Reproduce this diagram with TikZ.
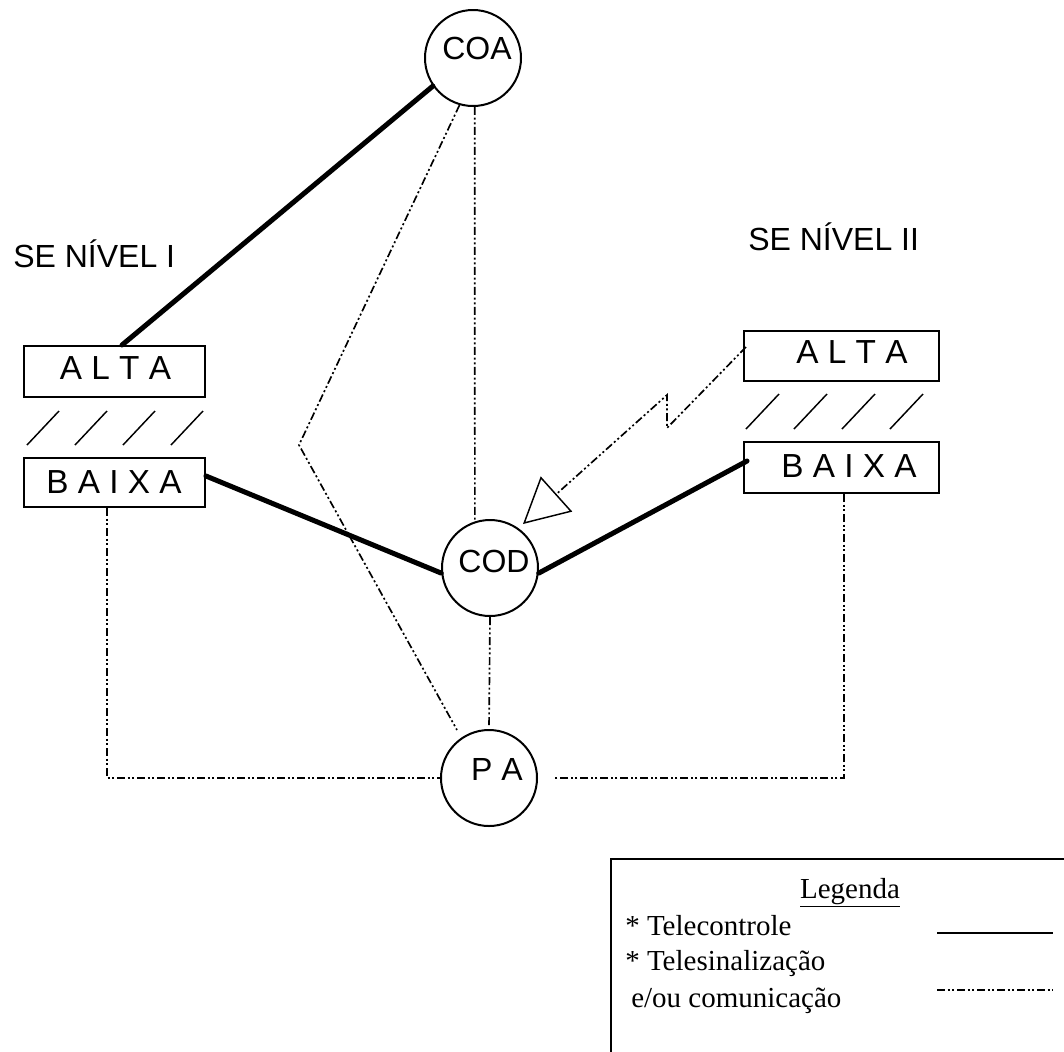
\documentclass[tikz,border=0pt]{standalone}
\usepackage{fontspec}
\setmainfont{Liberation Serif}
\newfontfamily\arialf{Liberation Sans}
\usetikzlibrary{calc,arrows.meta}
\begin{document}
\begin{tikzpicture}[x=0.75pt,y=-0.75pt,
  circ/.style={circle,draw,line width=1.5pt,minimum size=72pt,inner sep=0pt},
  boxn/.style={rectangle,draw,line width=1.5pt,inner sep=0pt},
  sans/.style={font=\arialf\fontsize{24}{28}\selectfont,inner sep=0pt},
  boxtxt/.style={font=\arialf\fontsize{25}{29}\selectfont,inner sep=0pt},
  serif/.style={font=\fontsize{21.75}{26}\selectfont,inner sep=0pt},
  tc/.style={line width=3.75pt,line cap=round},
  dd/.style={line width=1.25pt,dash pattern=on 6pt off 2pt on 1.5pt off 2pt on 1.5pt off 2pt},
  hatch/.style={line width=1.1pt}]
\useasboundingbox (0,0) rectangle (1064,1051);
\clip (0,0) rectangle (1064,1051);
\fill[white] (0,0) rectangle (1064,1051);

% circles
\node[circ] (COA) at (473,58) {};
\node[sans,anchor=base] (COAt) at (477,59) {COA};
\node[circ] (COD) at (490,568) {};
\node[sans,anchor=base] (CODt) at (494,572) {COD};
\node[circ] (PA) at (489,778) {};
\node[sans,anchor=base] (PAt) at (497,780) {P A};

% boxes
\node[boxn,minimum width=135.75pt,minimum height=38.25pt] (ALTAL) at (114.5,371.5) {};
\node[boxtxt,anchor=base] (ALTALt) at (115.5,379) {A L T A};
\node[boxn,minimum width=135.75pt,minimum height=36.75pt] (BAIXAL) at (114.5,482.5) {};
\node[boxtxt,anchor=base] (BAIXALt) at (114,493) {B A I X A};
\node[boxn,minimum width=146.25pt,minimum height=37.5pt] (ALTAR) at (841.5,356) {};
\node[boxtxt,anchor=base] (ALTARt) at (852,363) {A L T A};
\node[boxn,minimum width=146.25pt,minimum height=38.25pt] (BAIXAR) at (841.5,467.5) {};
\node[boxtxt,anchor=base] (BAIXARt) at (849,477) {B A I X A};

% titles
\node[sans,anchor=base west] (NIV1) at (13,267) {SE NÍVEL I};
\node[sans,anchor=base west] (NIV2) at (748,250) {SE NÍVEL II};

% hatch marks
\foreach \i in {0,1,2,3} {
  \draw[hatch] (27+48*\i,445) -- (59+48*\i,411);
  \draw[hatch] (746+48*\i,429) -- (779+48*\i,394);
}

% telecontrole (thick)
\draw[tc] (COA.215) -- ($(ALTAL.north)+(7.5,0)$);
\draw[tc] ($(BAIXAL.east)+(0,-6.5)$) -- (COD.186);
\draw[tc] (COD.354) -- ($(BAIXAR.west)+(4,-6.5)$);

% telesinalizacao (dash-dot)
\draw[dd] (COA.-88) -- (COD.108);
\coordinate (zig) at (299,445);
\draw[dd] (COA.254) -- (zig) -- ($(PA.center)+(-32,-48)$);
\draw[dd,shorten >=2pt] (COD.south) -- (PA.north);
\draw[dd] ($(BAIXAL.south)+(-7.5,0)$) |- (PA.west);
\draw[dd,shorten >=12.75pt] ($(BAIXAR.south)+(2.5,0)$) |- (PA.east);
\coordinate (bolt1) at (667,428);
\coordinate (bolt2) at (667,395);
\coordinate (tip) at (523,524);
\draw[dd,-{Triangle[open,length=33.75pt,width=35.25pt,line width=1.1pt]}]
  ($(ALTAR.west)+(3,-9)$) -- (bolt1) -- (bolt2) -- (tip);

% legend
\draw[line width=1.5pt] (1080,859) -- (611,859) -- (611,1070);
\node[serif,anchor=base] (LEG) at (850,898) {\underline{Legenda}};
\node[serif,anchor=base west] (L1) at (625,935) {* Telecontrole};
\node[serif,anchor=base west] (L2) at (625,970) {* Telesinalização};
\node[serif,anchor=base west] (L3) at (631,1007) {e/ou comunicação};
\coordinate (s1a) at (937,933);
\coordinate (s1b) at (1053,933);
\coordinate (s2a) at (937,990);
\coordinate (s2b) at (1053,990);
\draw[line width=1.1pt] (s1a) -- (s1b);
\draw[dd] (s2a) -- (s2b);
\end{tikzpicture}
\end{document}
